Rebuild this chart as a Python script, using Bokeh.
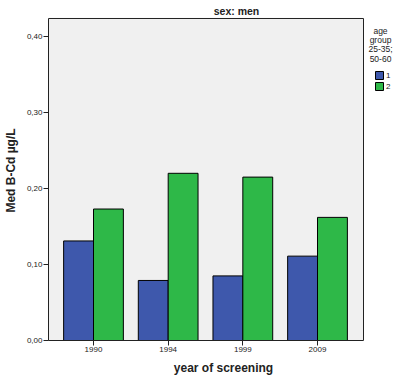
from bokeh.plotting import figure
from bokeh.models import Range1d, FixedTicker, ColumnDataSource
from bokeh.core.properties import value
from bokeh.embed import file_html
from bokeh.resources import INLINE

years = ["1990", "1994", "1999", "2009"]
group1 = [0.131, 0.079, 0.085, 0.111]
group2 = [0.173, 0.220, 0.215, 0.162]
y_ticks = [0.0, 0.1, 0.2, 0.3, 0.4]
y_tick_labels = ["0,00", "0,10", "0,20", "0,30", "0,40"]
legend_labels = ["1", "2"]
legend_title = ["age", "group", "25-35;", "50-60"]
colors = ["#3e58ac", "#2eb848"]

FONT = "Liberation Sans"
DARK = "#222222"

# layout constants (pixels -> data)
PX_X = 74.67          # pixels per category
PX_Y = 760.0          # pixels per 1.0 of y
X0 = -0.6027          # left edge of plot box
X1 = 3.616            # right edge of plot box
Y1 = 0.4237           # top of plot box
XEND = X0 + 350 / PX_X
YEND = 340 / PX_Y

def px_x(px):
    return (px - 93) / PX_X

def px_y(py):
    return (340 - py) / PX_Y

idx = list(range(len(years)))
src = ColumnDataSource(dict(
    x1=[i - 0.2 for i in idx], x2=[i + 0.2 for i in idx], g1=group1, g2=group2))

p = figure(width=398, height=380, output_backend="svg", toolbar_location=None,
           x_range=Range1d(X0, XEND), y_range=Range1d(0, YEND),
           min_border_left=48, min_border_right=0, min_border_top=0, min_border_bottom=40)
p.background_fill_color = "white"
p.border_fill_color = "white"
p.outline_line_color = None
p.xgrid.visible = False
p.ygrid.visible = False

# plot box
p.quad(left=[X0], right=[X1], bottom=[0], top=[Y1], fill_color="#f0f0f0", line_color=DARK, line_width=1)

p.vbar(x="x1", top="g1", width=0.4, source=src, fill_color=colors[0], line_color="black", line_width=1)
p.vbar(x="x2", top="g2", width=0.4, source=src, fill_color=colors[1], line_color="black", line_width=1)

p.yaxis.ticker = FixedTicker(ticks=y_ticks)
p.yaxis.major_label_overrides = {t: l for t, l in zip(y_ticks, y_tick_labels)}
p.xaxis.ticker = FixedTicker(ticks=idx)
p.xaxis.major_label_overrides = {i: y for i, y in zip(idx, years)}
p.yaxis.bounds = (0, Y1)
p.xaxis.bounds = (X0, X1)
for ax in (p.xaxis, p.yaxis):
    ax.major_label_text_font = FONT
    ax.major_label_text_font_size = "8px"
    ax.major_label_text_color = DARK
    ax.axis_line_color = DARK
    ax.major_tick_line_color = DARK
    ax.major_tick_in = 0
    ax.major_tick_out = 5
    ax.minor_tick_line_color = None
    ax.major_label_standoff = 1
    ax.axis_label_text_font = FONT
    ax.axis_label_text_font_style = "bold"
    ax.axis_label_text_font_size = "12px"
    ax.axis_label_text_color = DARK
p.xaxis.axis_label = "year of screening"
p.yaxis.axis_label = "Med B-Cd µg/L"
p.xaxis.axis_label_standoff = 6
p.yaxis.axis_label_standoff = 6

# panel title
p.text(x=[px_x(236)], y=[px_y(10)], text=["sex: men"], text_font=value(FONT),
       text_font_style="bold", text_font_size="10.5px", text_align="center",
       text_baseline="middle", text_color=DARK)

# legend
p.text(x=[px_x(380)] * len(legend_title), y=[px_y(v) for v in (30, 39.3, 48.6, 58)], text=legend_title,
       text_font=value(FONT), text_font_size="8.5px", text_align="center", text_baseline="middle",
       text_color=DARK)
sy = [px_y(v) for v in (75, 86)]
p.rect(x=[px_x(379)] * 2, y=sy, width=8, height=8, width_units="screen", height_units="screen",
       fill_color=colors, line_color="black", line_width=1)
p.text(x=[px_x(385.5)] * 2, y=sy, text=legend_labels, text_font=value(FONT),
       text_font_size="8px", text_align="left", text_baseline="middle", text_color=DARK)

open("out.html", "w").write(file_html(p, INLINE))
